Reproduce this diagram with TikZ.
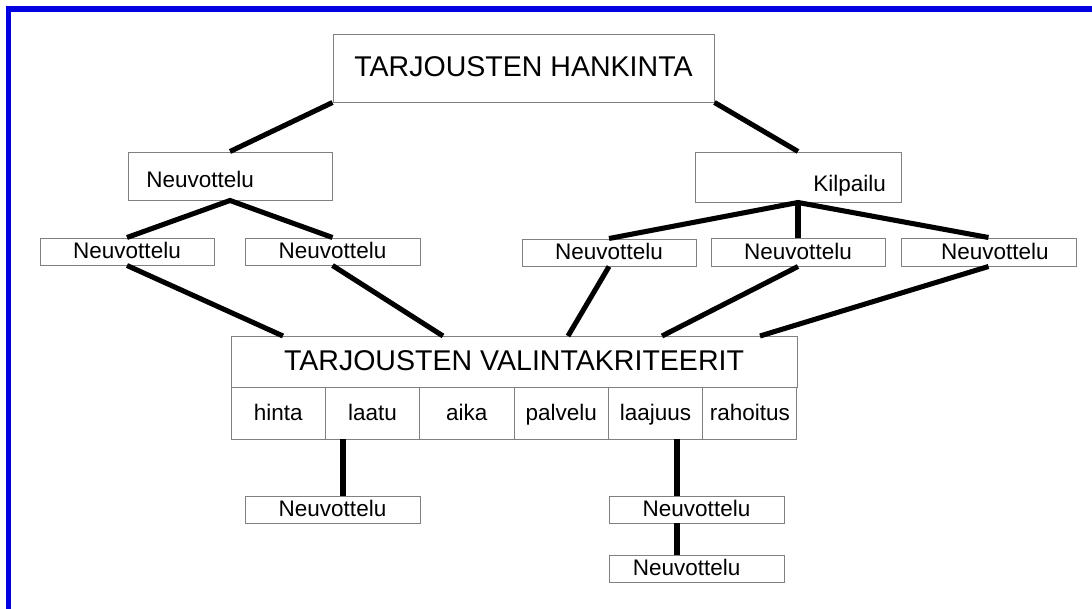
\documentclass[tikz,border=0pt]{standalone}
\usepackage{fontspec}
\setmainfont{Liberation Sans}
\definecolor{framegray}{RGB}{128,128,128}
\definecolor{edgeblue}{RGB}{0,0,225}
\tikzset{
	box/.style={draw=framegray, line width=0.7pt, inner sep=0pt, font=\fontsize{16}{19}\selectfont,
		text height=11.5pt, text depth=1pt},
	boxsize/.style 2 args={minimum width=#1*0.025cm, minimum height=#2*0.025cm},
	bigtext/.style={font=\fontsize{20.3}{24}\selectfont, text height=14.6pt, text depth=2pt},
	smalltext/.style={font=\fontsize{16}{19}\selectfont, inner sep=0pt},
	link/.style={line width=3.6pt},
}
\begin{document}
\begin{tikzpicture}[x=0.025cm, y=-0.025cm]
	\useasboundingbox (0,0) rectangle (1092,609);
	\fill[white] (0,0) rectangle (1092,609);
	\draw[edgeblue, line width=4pt] (8.5,609) -- (8.5,9) -- (1092,9);
	% upper part
	\node[box, bigtext, boxsize={381}{68}] (hank) at (523.5,68) {TARJOUSTEN HANKINTA};
	\node[box, boxsize={204}{48}] (neuv) at (230,176) {};
	\node[smalltext, anchor=base west] (neuvtxt) at (146,188) {Neuvottelu};
	\node[box, boxsize={206}{50}] (kilp) at (798,177) {};
	\node[smalltext, anchor=base west] (kilptxt) at (813,192) {Kilpailu};
	\node[box, boxsize={174}{27}] (na) at (127,251.5) {Neuvottelu};
	\node[box, boxsize={175}{27}] (nb) at (332.5,251.5) {Neuvottelu};
	\node[box, boxsize={174}{27}] (nc) at (609,252.5) {Neuvottelu};
	\node[box, boxsize={174}{28}] (nd) at (798,252) {Neuvottelu};
	\node[box, boxsize={175}{28}] (ne) at (988.5,252) {\hspace{9pt}Neuvottelu};
	\draw[link] (hank.south west) -- (neuv.north);
	\draw[link] (hank.south east) -- (kilp.north);
	\draw[link] (na.north) -- (neuv.south) -- (nb.north);
	\draw[link] (nc.north) -- (kilp.south) -- (ne.north);
	\draw[link] (kilp.south) -- (nd.north);
	% criteria
	\node[box, bigtext, boxsize={566}{51}] (val) at (514,361.5) {TARJOUSTEN VALINTAKRITEERIT};
	\foreach \txt [count=\i] in {hinta,laatu,aika,palvelu,laajuus,rahoitus}
		\node[box, boxsize={94.33}{52}] (crit\i) at ({231+94.33*(\i-0.5)},413) {\txt};
	\coordinate (va) at (283,336);
	\coordinate (vb) at (443,336);
	\coordinate (vc) at (568,336);
	\coordinate (vd) at (662,336);
	\coordinate (ve) at (760,336);
	\draw[link] (na.south) -- (va);
	\draw[link] (nb.south) -- (vb);
	\draw[link] (nc.south) -- (vc);
	\draw[link] (nd.south) -- (vd);
	\draw[link] (ne.south) -- (ve);
	% lower part
	\node[box, boxsize={175}{27}] (nl) at (332.5,509.5) {Neuvottelu};
	\node[box, boxsize={175}{27}] (nr) at (696.5,509.5) {Neuvottelu};
	\node[box, boxsize={175}{27}] (nrr) at (696.5,568.5) {\hspace*{-14pt}Neuvottelu};
	\coordinate (laatudown) at (343,439);
	\coordinate (laajdown) at (677,439);
	\draw[link] (laatudown) -- (laatudown |- nl.north);
	\draw[link] (laajdown) -- (laajdown |- nr.north);
	\draw[link] (laajdown |- nr.south) -- (laajdown |- nrr.north);
\end{tikzpicture}
\end{document}
